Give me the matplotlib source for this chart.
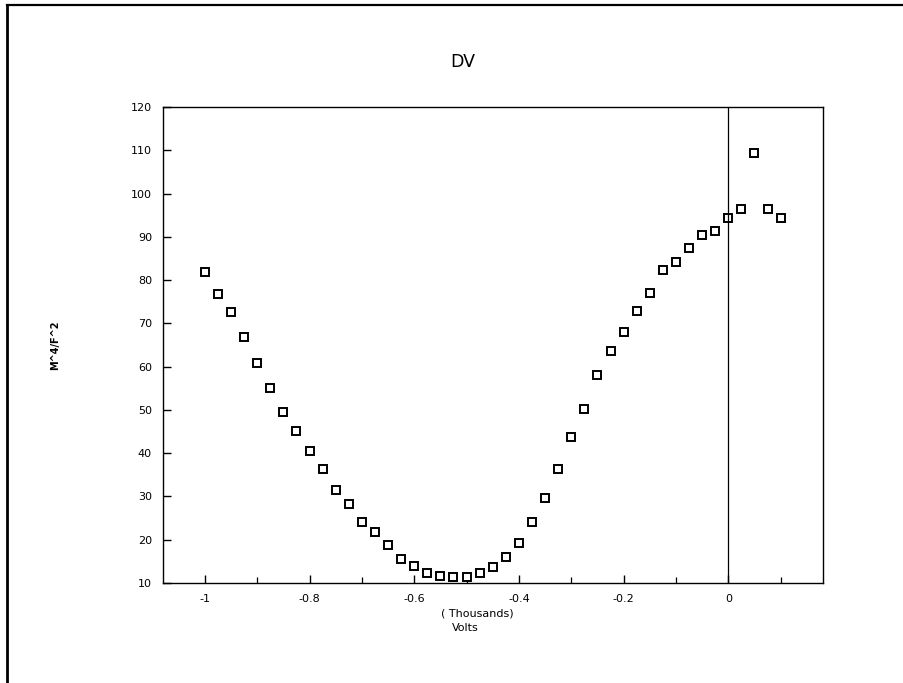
import matplotlib
matplotlib.use("Agg")
import matplotlib.pyplot as plt
from matplotlib.ticker import MultipleLocator, FixedLocator
from matplotlib.lines import Line2D

volts_k = [-1.000, -0.975, -0.950, -0.925, -0.900, -0.875, -0.850, -0.825, -0.800,
           -0.775, -0.750, -0.725, -0.700, -0.675, -0.650, -0.625, -0.600, -0.575,
           -0.550, -0.525, -0.500, -0.475, -0.450, -0.425, -0.400, -0.375, -0.350,
           -0.325, -0.300, -0.275, -0.250, -0.225, -0.200, -0.175, -0.150, -0.125,
           -0.100, -0.075, -0.050, -0.025, 0.000, 0.025, 0.050, 0.075, 0.100]
m4f2 = [81.9, 76.9, 72.6, 66.9, 60.8, 55.0, 49.5, 45.2, 40.4,
        36.3, 31.5, 28.2, 24.2, 21.9, 18.8, 15.6, 13.9, 12.2,
        11.7, 11.5, 11.5, 12.4, 13.8, 16.1, 19.3, 24.2, 29.7,
        36.4, 43.8, 50.3, 58.1, 63.7, 68.0, 72.9, 77.1, 82.4,
        84.2, 87.4, 90.4, 91.3, 94.3, 96.4, 109.3, 96.4, 94.3]

x_major = [-1.0, -0.8, -0.6, -0.4, -0.2, 0.0]
x_labels = ["-1", "-0.8", "-0.6", "-0.4", "-0.2", "0"]
y_ticks = [10, 20, 30, 40, 50, 60, 70, 80, 90, 100, 110, 120]

fig = plt.figure(figsize=(9.04, 6.83), dpi=100)
fig.patch.set_facecolor("white")
ax = fig.add_axes([163/904, 100/683, 660/904, 476/683])

ax.plot(volts_k, m4f2, linestyle="none", marker="s", markersize=5.6,
        markerfacecolor="white", markeredgecolor="black", markeredgewidth=1.4)
ax.axvline(0, color="black", linewidth=0.9)

ax.set_xlim(-1.08, 0.181)
ax.set_ylim(10, 120)
ax.xaxis.set_major_locator(FixedLocator(x_major))
ax.set_xticklabels(x_labels)
ax.xaxis.set_minor_locator(MultipleLocator(0.1))
ax.set_yticks(y_ticks)
ax.set_yticklabels([str(v) for v in y_ticks])

ax.tick_params(axis="both", which="major", direction="in", length=6, width=1.0,
               labelsize=8, color="black")
ax.tick_params(axis="x", which="minor", direction="in", length=4, width=0.9)
ax.tick_params(axis="x", which="major", pad=8)
ax.tick_params(axis="y", which="major", pad=8)
for s in ax.spines.values():
    s.set_linewidth(1.0)

fig.text(463/904, 1 - 62/683, "DV", ha="center", va="center", fontsize=12.5,
         color="black")
fig.text(477/904, 1 - 614/683, "( Thousands)", ha="center", va="center", fontsize=8)
fig.text(465/904, 1 - 628/683, "Volts", ha="center", va="center", fontsize=8)
fig.text(55/904, 1 - 345/683, "M^4/F^2", ha="center", va="center", fontsize=7,
         rotation=90, fontweight="bold")

# page border (left and top)
fig.add_artist(Line2D([7/904, 7/904], [0, 1 - 5/683], transform=fig.transFigure,
                      color="black", linewidth=2.0))
fig.add_artist(Line2D([7/904, 1], [1 - 5/683, 1 - 5/683], transform=fig.transFigure,
                      color="black", linewidth=1.6))

fig.savefig("out.png", dpi=100, facecolor="white")
